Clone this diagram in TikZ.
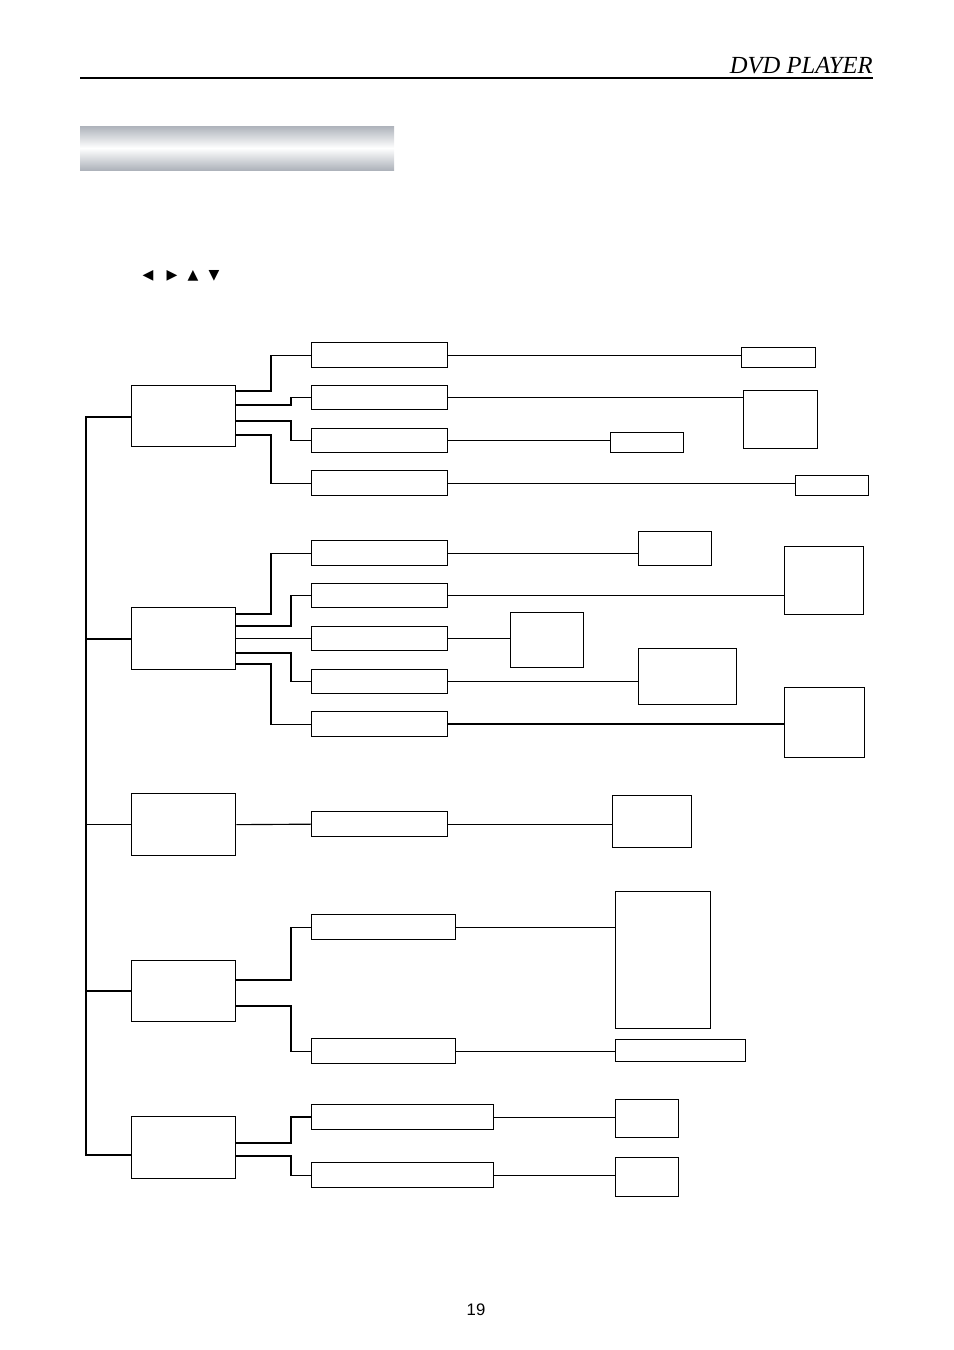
\documentclass[tikz,border=0pt]{standalone}
\usepackage{fontspec}
\setmainfont{Liberation Serif}
\newfontfamily\keyfont{DejaVu Sans}
\newfontfamily\pagefont{Liberation Sans}
\usepackage{xcolor}
\usepackage{tikz}
\definecolor{barsilver}{RGB}{174,179,187}

\begin{document}
\begin{tikzpicture}[
    x=0.02cm, y=-0.02cm,
    menubox/.style={draw, line width=0.75pt, anchor=north west, inner sep=0pt},
    boxsize/.style 2 args={minimum width=#1*0.02cm, minimum height=#2*0.02cm},
    link/.style={line width=0.65pt},
    heavylink/.style={line width=1.3pt},
    keymark/.style={font=\keyfont\fontsize{8}{9}\selectfont, inner sep=0pt}
]
    \useasboundingbox (0,0) rectangle (954,1350);

    % page header
    \node[anchor=base east, inner sep=0pt, font=\itshape\fontsize{14}{16}\selectfont] (title) at (873,73) {DVD PLAYER};
    \draw[line width=0.6pt] (80,78) -- (873,78);
    \shade[top color=barsilver, bottom color=barsilver, middle color=white] (80,126) rectangle (394,170);

    % cursor keys
    \node[keymark] (keyleft) at (148,276) {◀};
    \node[keymark] (keyright) at (172,276) {▶};
    \node[keymark] (keyup) at (193,276) {▲};
    \node[keymark] (keydown) at (214,276) {▼};

    % first level
    \node[menubox, boxsize={104}{61}] (main1) at (131,385) {};
    \node[menubox, boxsize={104}{62}] (main2) at (131,607) {};
    \node[menubox, boxsize={104}{62}] (main3) at (131,793) {};
    \node[menubox, boxsize={104}{61}] (main4) at (131,960) {};
    \node[menubox, boxsize={104}{62}] (main5) at (131,1116) {};

    % second level
    \node[menubox, boxsize={136}{25}] (sub11) at (311,342) {};
    \node[menubox, boxsize={136}{24}] (sub12) at (311,385) {};
    \node[menubox, boxsize={136}{24}] (sub13) at (311,428) {};
    \node[menubox, boxsize={136}{25}] (sub14) at (311,470) {};
    \node[menubox, boxsize={136}{25}] (sub21) at (311,540) {};
    \node[menubox, boxsize={136}{24}] (sub22) at (311,583) {};
    \node[menubox, boxsize={136}{24}] (sub23) at (311,626) {};
    \node[menubox, boxsize={136}{24}] (sub24) at (311,669) {};
    \node[menubox, boxsize={136}{25}] (sub25) at (311,711) {};
    \node[menubox, boxsize={136}{25}] (sub31) at (311,811) {};
    \node[menubox, boxsize={144}{25}] (sub41) at (311,914) {};
    \node[menubox, boxsize={144}{25}] (sub42) at (311,1038) {};
    \node[menubox, boxsize={182}{25}] (sub51) at (311,1104) {};
    \node[menubox, boxsize={182}{25}] (sub52) at (311,1162) {};

    % third level
    \node[menubox, boxsize={74}{20}] (res11) at (741,347) {};
    \node[menubox, boxsize={74}{58}] (res12) at (743,390) {};
    \node[menubox, boxsize={73}{20}] (res13) at (610,432) {};
    \node[menubox, boxsize={73}{20}] (res14) at (795,475) {};
    \node[menubox, boxsize={73}{34}] (res21) at (638,531) {};
    \node[menubox, boxsize={79}{68}] (res22) at (784,546) {};
    \node[menubox, boxsize={73}{55}] (res23) at (510,612) {};
    \node[menubox, boxsize={98}{56}] (res24) at (638,648) {};
    \node[menubox, boxsize={80}{70}] (res25) at (784,687) {};
    \node[menubox, boxsize={79}{52}] (res3) at (612,795) {};
    \node[menubox, boxsize={95}{137}] (res41) at (615,891) {};
    \node[menubox, boxsize={130}{22}] (res42) at (615,1039) {};
    \node[menubox, boxsize={63}{38}] (res51) at (615,1099) {};
    \node[menubox, boxsize={63}{39}] (res52) at (615,1157) {};

    % trunk
    \coordinate (trunktop) at (86,417);
    \coordinate (trunkbot) at (86,1155);
    \draw[link] (main1.west |- trunktop) -- (trunktop) -- (trunkbot) -- (main5.west |- trunkbot);
    \draw[heavylink] (trunktop |- main2.west) -- (main2.west);
    \draw[link] (trunktop |- main3.west) -- (main3.west);
    \draw[heavylink] (trunktop |- main4.west) -- (main4.west);

    % first to second level
    \draw[link] (main1.east |- 0,391) -- (271,391) |- (sub11.west);
    \draw[link] (main1.east |- 0,405) -- (291,405) |- (sub12.west);
    \draw[link] (main1.east |- 0,421) -- (291,421) |- (sub13.west);
    \draw[link] (main1.east |- 0,435) -- (271,435) |- (sub14.west);
    \draw[link] (main2.east |- 0,614) -- (271,614) |- (sub21.west);
    \draw[link] (main2.east |- 0,626) -- (291,626) |- (sub22.west);
    \draw[link] (main2.east |- sub23.west) -- (sub23.west);
    \draw[link] (main2.east |- 0,653) -- (291,653) |- (sub24.west);
    \draw[link] (main2.east |- 0,664) -- (271,664) |- (sub25.west);
    \draw[link] (main3.east) -- (sub31.west);
    \draw[link] (main4.east |- 0,980) -- (291,980) |- (sub41.west);
    \draw[link] (main4.east |- 0,1006) -- (291,1006) |- (sub42.west);
    \draw[heavylink] (main5.east |- 0,1143) -- (291,1143) |- (sub51.west);
    \draw[link] (main5.east |- 0,1156) -- (291,1156) |- (sub52.west);

    % second to third level
    \draw[link] (sub11.east) -- (sub11.east -| res11.west);
    \draw[link] (sub12.east) -- (sub12.east -| res12.west);
    \draw[link] (sub13.east) -- (sub13.east -| res13.west);
    \draw[link] (sub14.east) -- (sub14.east -| res14.west);
    \draw[link] (sub21.east) -- (sub21.east -| res21.west);
    \draw[link] (sub22.east) -- (sub22.east -| res22.west);
    \draw[link] (sub23.east) -- (sub23.east -| res23.west);
    \draw[link] (sub24.east) -- (sub24.east -| res24.west);
    \draw[heavylink] (sub25.east) -- (sub25.east -| res25.west);
    \draw[link] (sub31.east) -- (sub31.east -| res3.west);
    \draw[link] (sub41.east) -- (sub41.east -| res41.west);
    \draw[link] (sub42.east) -- (sub42.east -| res42.west);
    \draw[link] (sub51.east) -- (sub51.east -| res51.west);
    \draw[link] (sub52.east) -- (sub52.east -| res52.west);

    % page number
    \node[font=\pagefont\fontsize{9.5}{11}\selectfont, inner sep=0pt] (pagenum) at (476,1310) {19};
\end{tikzpicture}
\end{document}
